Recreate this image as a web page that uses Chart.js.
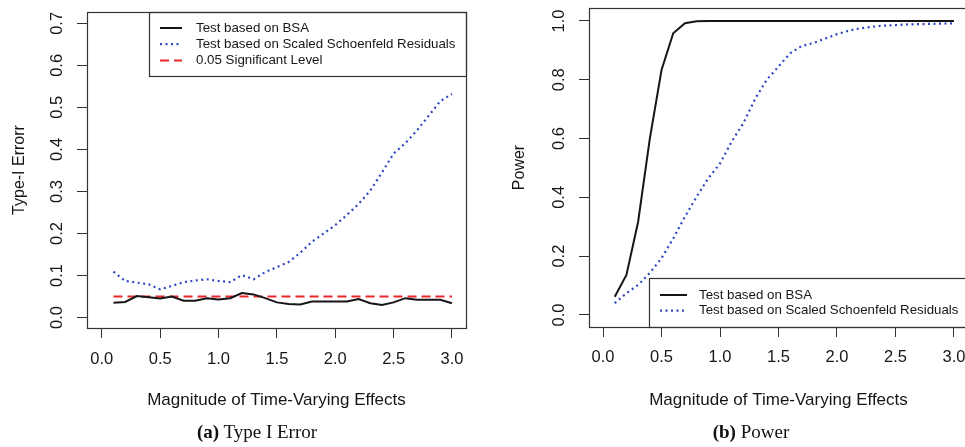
<!DOCTYPE html>
<html>
<head>
<meta charset="utf-8">
<script src="https://cdn.jsdelivr.net/npm/chart.js@4.4.1/dist/chart.umd.min.js"></script>
<style>
  html, body { margin: 0; padding: 0; background: #fff; overflow: hidden; width: 965px; height: 447px; }
  #errChart { position: absolute; left: 0; top: 0; }
  #powChart { position: absolute; left: 482px; top: 0; }
  .cap { position: absolute; top: 421px; font-family: "Liberation Serif", serif; font-size: 19px;
         color: #111; transform: translateX(-50%); white-space: nowrap; }
</style>
</head>
<body>
<canvas id="errChart" width="482" height="447"></canvas>
<canvas id="powChart" width="490" height="447"></canvas>
<div class="cap" style="left:257px"><b>(a)</b> Type I Error</div>
<div class="cap" style="left:751px"><b>(b)</b> Power</div>
<script>
// magnitudes of the time-varying effect
const effects = [0.1, 0.2, 0.3, 0.4, 0.5, 0.6, 0.7, 0.8, 0.9, 1.0,
                 1.1, 1.2, 1.3, 1.4, 1.5, 1.6, 1.7, 1.8, 1.9, 2.0,
                 2.1, 2.2, 2.3, 2.4, 2.5, 2.6, 2.7, 2.8, 2.9, 3.0];

const xTicks = [0, 0.5, 1, 1.5, 2, 2.5, 3];
const errorTicks = [0, 0.1, 0.2, 0.3, 0.4, 0.5, 0.6, 0.7];
const powerTicks = [0, 0.2, 0.4, 0.6, 0.8, 1.0];

// (a) type I error
const errorBSA = [0.035, 0.037, 0.051, 0.048, 0.045, 0.050, 0.040, 0.040, 0.046, 0.043,
                  0.046, 0.058, 0.055, 0.046, 0.036, 0.032, 0.031, 0.038, 0.038, 0.038,
                  0.038, 0.044, 0.034, 0.030, 0.036, 0.046, 0.042, 0.042, 0.042, 0.034];
const errorSSR = [0.109, 0.087, 0.083, 0.079, 0.067, 0.075, 0.084, 0.088, 0.091, 0.087,
                  0.084, 0.101, 0.091, 0.108, 0.120, 0.132, 0.154, 0.180, 0.200, 0.220,
                  0.244, 0.270, 0.302, 0.345, 0.390, 0.415, 0.445, 0.480, 0.515, 0.532];
const sigX = [0.1, 3.0];
const sigY = [0.05, 0.05];

// (b) power
const powerBSA = [0.062, 0.136, 0.317, 0.600, 0.833, 0.958, 0.992, 0.999, 1.000, 1.000,
                  1.000, 1.000, 1.000, 1.000, 1.000, 1.000, 1.000, 1.000, 1.000, 1.000,
                  1.000, 1.000, 1.000, 1.000, 1.000, 1.000, 1.000, 1.000, 1.000, 1.000];
const powerSSR = [0.040, 0.074, 0.102, 0.143, 0.193, 0.260, 0.334, 0.402, 0.465, 0.515,
                  0.590, 0.652, 0.735, 0.800, 0.845, 0.890, 0.915, 0.925, 0.940, 0.955,
                  0.967, 0.975, 0.980, 0.984, 0.986, 0.988, 0.989, 0.990, 0.991, 0.992];

const FONT = '"Liberation Sans", Arial, sans-serif';
const INK = '#161616';
const BLUE = '#3046c2';
const RED = '#e8262c';

function pts(xs, ys) {
    return xs.map((x, i) => ({ x: x, y: ys[i] }));
}

// frame round the plot region, like R's box()
const frame = {
    id: 'frame',
    afterDraw(chart) {
        const a = chart.chartArea, ctx = chart.ctx;
        ctx.save();
        ctx.strokeStyle = '#333';
        ctx.lineWidth = 1.2;
        ctx.strokeRect(Math.round(a.left) + 0.5, Math.round(a.top) + 0.5,
                       Math.round(a.right - a.left), Math.round(a.bottom - a.top));
        ctx.restore();
    }
};

// R style legend box with line samples
const boxLegend = {
    id: 'boxLegend',
    afterDatasetsDraw(chart, args, o) {
        const ctx = chart.ctx;
        ctx.save();
        ctx.fillStyle = '#fff';
        ctx.fillRect(o.x, o.y, o.w, o.h);
        ctx.strokeStyle = '#333';
        ctx.lineWidth = 1.2;
        ctx.strokeRect(o.x + 0.5, o.y + 0.5, o.w, o.h);
        ctx.font = '13.3px ' + FONT;
        ctx.textBaseline = 'middle';
        chart.data.datasets.forEach((ds, i) => {
            const y = o.y + o.first + i * o.step;
            ctx.strokeStyle = ds.borderColor;
            ctx.lineWidth = ds.borderWidth;
            ctx.setLineDash(ds.borderDash || []);
            ctx.beginPath();
            ctx.moveTo(o.x + o.l1, y);
            ctx.lineTo(o.x + o.l2, y);
            ctx.stroke();
            ctx.setLineDash([]);
            ctx.fillStyle = INK;
            ctx.fillText(ds.label, o.x + o.tx, y);
        });
        ctx.restore();
    }
};

function axisOpts(min, max, tickVals, title, isX, size, titlePad, tickPad) {
    return {
        type: 'linear',
        min: min,
        max: max,
        afterBuildTicks: s => { s.ticks = tickVals.map(v => ({ value: v })); },
        afterFit: s => {
            if (isX) s.height = size; else s.width = size;
            s.paddingTop = 0; s.paddingBottom = 0; s.paddingLeft = 0; s.paddingRight = 0;
        },
        grid: { display: true, drawOnChartArea: false, drawTicks: true, tickLength: 10,
                tickColor: '#333', tickWidth: 1 },
        border: { display: false },
        ticks: {
            autoSkip: false,
            font: { family: FONT, size: 16.5 },
            color: INK,
            padding: tickPad,
            minRotation: isX ? 0 : 90,
            maxRotation: isX ? 0 : 90,
            crossAlign: 'center',
            callback: v => v.toFixed(1)
        },
        title: {
            display: true,
            text: title,
            color: INK,
            font: { family: FONT, size: isX ? 17 : 16 },
            padding: titlePad
        }
    };
}

function lineSet(label, data, color, width, dash) {
    return { label: label, data: data, borderColor: color, borderWidth: width,
             borderDash: dash, pointRadius: 0, tension: 0, fill: false };
}

new Chart(document.getElementById('errChart'), {
    type: 'line',
    data: {
        datasets: [
            lineSet('Test based on BSA', pts(effects, errorBSA), INK, 2, []),
            lineSet('Test based on Scaled Schoenfeld Residuals', pts(effects, errorSSR), BLUE, 2.2, [2, 3.5]),
            lineSet('0.05 Significant Level', pts(sigX, sigY), RED, 2, [9, 5])
        ]
    },
    options: {
        responsive: false,
        animation: false,
        layout: { padding: { top: 12, right: 16, left: 0, bottom: 0 } },
        plugins: {
            legend: { display: false },
            tooltip: { enabled: false },
            boxLegend: { x: 149, y: 12, w: 317, h: 64, first: 16, step: 16.2, l1: 11, l2: 33, tx: 47 }
        },
        scales: {
            x: axisOpts(-0.127, 3.12, xTicks, 'Magnitude of Time-Varying Effects', true, 119,
                        { top: 0, bottom: 36 }, 21),
            y: axisOpts(-0.025, 0.727, errorTicks, 'Type-I Errorr', false, 87,
                        { top: 10, bottom: 0 }, 8)
        }
    },
    plugins: [boxLegend, frame]
});

new Chart(document.getElementById('powChart'), {
    type: 'line',
    data: {
        datasets: [
            lineSet('Test based on BSA', pts(effects, powerBSA), INK, 2, []),
            lineSet('Test based on Scaled Schoenfeld Residuals', pts(effects, powerSSR), BLUE, 2.2, [2, 3.5])
        ]
    },
    options: {
        responsive: false,
        animation: false,
        layout: { padding: { top: 8, right: 4, left: 0, bottom: 0 } },
        plugins: {
            legend: { display: false },
            tooltip: { enabled: false },
            boxLegend: { x: 167, y: 278, w: 330, h: 49, first: 17, step: 15.7, l1: 11, l2: 38, tx: 50 }
        },
        scales: {
            x: axisOpts(-0.12, 3.12, xTicks, 'Magnitude of Time-Varying Effects', true, 120,
                        { top: 0, bottom: 36 }, 20),
            y: axisOpts(-0.041, 1.044, powerTicks, 'Power', false, 107,
                        { top: 28, bottom: 0 }, 8)
        }
    },
    plugins: [boxLegend, frame]
});
</script>
</body>
</html>
